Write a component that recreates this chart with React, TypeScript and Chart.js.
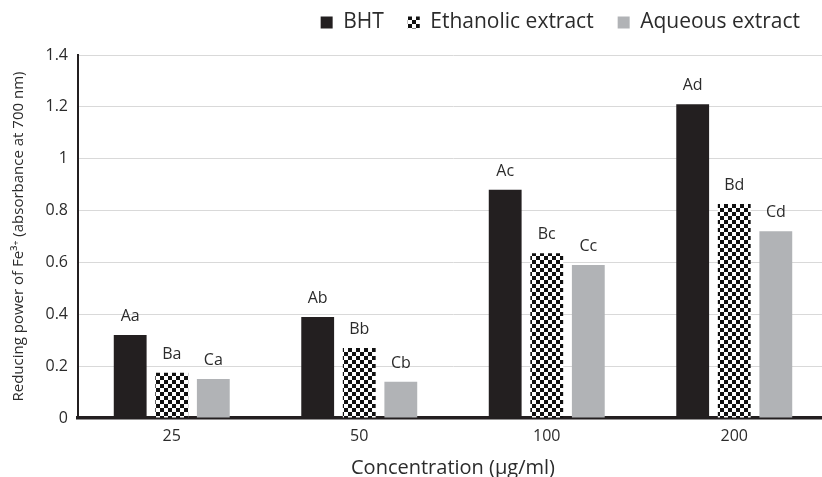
import React, { useEffect, useRef } from "react";
import { Chart, registerables } from "chart.js";

Chart.register(...registerables);

const categories = ["25", "50", "100", "200"];
const bhtValues = [0.32, 0.39, 0.88, 1.21];
const ethanolicValues = [0.175, 0.27, 0.635, 0.825];
const aqueousValues = [0.15, 0.14, 0.59, 0.72];
const bhtLabels = ["Aa", "Ab", "Ac", "Ad"];
const ethanolicLabels = ["Ba", "Bb", "Bc", "Bd"];
const aqueousLabels = ["Ca", "Cb", "Cc", "Cd"];
const yTicks = [0, 0.2, 0.4, 0.6, 0.8, 1, 1.2, 1.4];

const FONT = "'Open Sans', sans-serif";
const TEXT = "#2b2b2b";
const W = 832;
const H = 477;

function makeChecker(): CanvasPattern | string {
  const c = document.createElement("canvas");
  c.width = 8;
  c.height = 8;
  const g = c.getContext("2d");
  if (!g) return "#000";
  g.fillStyle = "#ffffff";
  g.fillRect(0, 0, 8, 8);
  g.fillStyle = "#111111";
  g.fillRect(0, 0, 4, 4);
  g.fillRect(4, 4, 4, 4);
  const p = g.createPattern(c, "repeat");
  return p || "#000";
}

const barLabelPlugin = {
  id: "barLabels",
  afterDatasetsDraw(chart: any) {
    const ctx = chart.ctx;
    const labelSets = [bhtLabels, ethanolicLabels, aqueousLabels];
    ctx.save();
    ctx.font = `16px ${FONT}`;
    ctx.fillStyle = TEXT;
    ctx.textAlign = "center";
    ctx.textBaseline = "alphabetic";
    chart.data.datasets.forEach((_: any, di: number) => {
      const meta = chart.getDatasetMeta(di);
      meta.data.forEach((bar: any, i: number) => {
        ctx.fillText(labelSets[di][i], bar.x, bar.y - 14);
      });
    });
    ctx.restore();
  },
};

const legendShiftPlugin = {
  id: "legendShift",
  afterLayout(chart: any) {
    const lg = chart.legend;
    if (lg) {
      lg.left -= 4;
      lg.right -= 4;
      lg.top -= 12;
      lg.bottom -= 12;
    }
  },
};

export default function App() {
  const ref = useRef<HTMLCanvasElement>(null);
  useEffect(() => {
    if (!ref.current) return;
    const checker = makeChecker();
    const chart = new Chart(ref.current, {
      type: "bar",
      data: {
        labels: categories,
        datasets: [
          { label: "BHT", data: bhtValues, backgroundColor: "#231f20" },
          { label: "Ethanolic extract", data: ethanolicValues, backgroundColor: checker as any },
          { label: "Aqueous extract", data: aqueousValues, backgroundColor: "#b1b3b6" },
        ],
      },
      options: {
        animation: false,
        responsive: false,
        maintainAspectRatio: false,
        layout: { padding: { top: 0, right: 4, left: 0, bottom: 0 } },
        datasets: {
          bar: { barPercentage: 0.79, categoryPercentage: 0.665 },
        } as any,
        plugins: {
          tooltip: { enabled: false },
          legend: {
            position: "top",
            align: "end",
            labels: {
              font: { family: FONT, size: 21 },
              color: TEXT,
              boxWidth: 12,
              boxHeight: 12,
              padding: 24,
            },
          },
        },
        scales: {
          x: {
            afterFit: (scale: any) => {
              scale.height = 59;
            },
            grid: { display: false, drawTicks: false },
            border: { display: true, color: "#231f20", width: 3.5 },
            ticks: { font: { family: FONT, size: 16 }, color: TEXT, padding: 9 },
            title: {
              display: true,
              text: "Concentration (μg/ml)",
              font: { family: FONT, size: 20 },
              color: TEXT,
              padding: { top: 0, bottom: -3 },
            },
          },
          y: {
            min: 0,
            max: 1.4,
            afterBuildTicks: (scale: any) => {
              scale.ticks = yTicks.map((v) => ({ value: v }));
            },
            afterFit: (scale: any) => {
              scale.width = 78;
            },
            grid: { color: "#d9d9d9", lineWidth: 1, drawTicks: false },
            border: { display: true, color: "#231f20", width: 2 },
            ticks: {
              font: { family: FONT, size: 16 },
              color: TEXT,
              padding: 10,
              callback: (v: any) => String(v),
            },
            title: {
              display: true,
              text: "Reducing power of Fe³⁺ (absorbance at 700 nm)",
              font: { family: FONT, size: 15 },
              color: TEXT,
              padding: { top: 10, bottom: 0 },
            },
          },
        },
      },
      plugins: [barLabelPlugin, legendShiftPlugin],
    });
    return () => chart.destroy();
  }, []);
  return (
    <div style={{ position: "fixed", left: 0, top: 0, width: W, height: H, background: "#fff", overflow: "hidden" }}>
      <canvas ref={ref} width={W} height={H} style={{ width: W, height: H, display: "block" }} />
    </div>
  );
}
